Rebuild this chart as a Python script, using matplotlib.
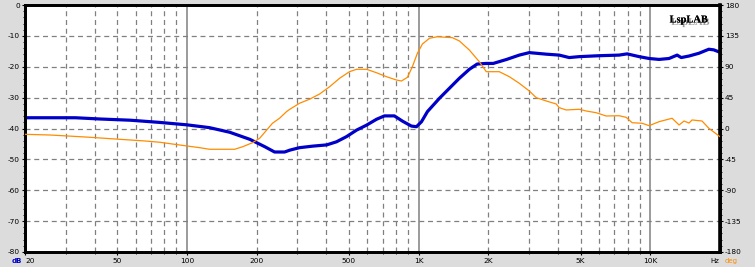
import matplotlib
matplotlib.use("Agg")
import matplotlib.pyplot as plt
from matplotlib.ticker import FixedLocator, NullFormatter
import matplotlib.patheffects as pe

# ---- data ----
mag_freq = [20, 33, 42, 57, 76, 100, 125, 153, 187, 217, 239, 264, 278, 306, 349, 401,
            442, 489, 540, 596, 658, 712, 786, 852, 931, 979, 1029, 1092, 1230, 1500,
            1656, 1790, 1960, 2100, 2400, 2720, 3004, 3221, 3556, 4046, 4467, 4932,
            6014, 7334, 7946, 8954, 9886, 10914, 12050, 13060, 13600, 14700, 16230,
            17900, 18800, 20000]
mag_db = [-36.5, -36.5, -36.9, -37.3, -38.0, -38.8, -39.7, -41.2, -43.5, -45.9, -47.6,
          -47.6, -47.0, -46.2, -45.7, -45.3, -44.3, -42.6, -40.5, -38.9, -37.0, -35.9,
          -35.9, -37.6, -39.2, -39.4, -37.8, -34.5, -30.2, -23.7, -20.8, -19.1, -18.9,
          -18.9, -17.6, -16.2, -15.4, -15.6, -15.9, -16.2, -17.0, -16.7, -16.4, -16.2,
          -15.8, -16.7, -17.3, -17.6, -17.3, -16.2, -17.0, -16.5, -15.6, -14.3, -14.5,
          -15.3]

ph_freq = [20, 25.6, 32.3, 38, 44.2, 51.4, 65.8, 76.4, 88.6, 100, 113.6, 125, 145.6,
           160.8, 174, 192, 206, 234, 251, 269, 278, 306, 338, 374, 413, 456, 503, 540,
           596, 658, 727, 802, 843, 895, 940, 988, 1039, 1114, 1206, 1399, 1500, 1656,
           1828, 1960, 2061, 2230, 2464, 2720, 3004, 3221, 3556, 3927, 4046, 4338, 4932,
           5290, 5842, 6452, 7334, 7868, 8352, 9222, 9886, 10914, 12420, 13320, 13990,
           14700, 15150, 16730, 17900, 20000]
ph_deg = [-8.4, -9.4, -11.3, -12.7, -14.2, -15.7, -18.1, -20.0, -23.0, -25.4, -27.9,
          -30.2, -30.2, -30.2, -26.5, -20.6, -14.2, 7.7, 15.0, 24.6, 28.1, 36.8, 42.7,
          50.4, 61.0, 73.3, 82.9, 86.4, 86.4, 81.4, 75.6, 70.8, 69.3, 74.7, 90.2, 109.7,
          123.3, 131.6, 133.9, 132.5, 127.7, 114.5, 97.5, 82.9, 82.9, 82.9, 75.6, 66.0,
          54.8, 45.0, 40.2, 35.8, 30.4, 27.1, 28.1, 25.6, 23.1, 18.3, 18.7, 16.4, 8.5,
          7.7, 4.2, 10.0, 15.0, 5.2, 11.0, 8.0, 12.5, 11.0, 0.4, -11.9]

db_ticks = [0, -10, -20, -30, -40, -50, -60, -70, -80]
deg_ticks = [180, 135, 90, 45, 0, -45, -90, -135, -180]
freq_ticks = [20, 50, 100, 200, 500, 1000, 2000, 5000, 10000]
freq_labels = ["20", "50", "100", "200", "500", "1K", "2K", "5K", "10K"]

BG = "#dcdcdc"
BLUE = "#0000c8"
ORANGE = "#ff8c00"

fig = plt.figure(figsize=(7.55, 2.67), dpi=100, facecolor=BG)
L, R = 25 / 755, 720 / 755
B, T = 1 - 252 / 267, 1 - 5.1 / 267
ax = fig.add_axes([L, B, R - L, T - B])
ax.set_facecolor("white")
ax.set_xscale("log")
ax.set_xlim(20, 20000)
ax.set_ylim(-80, 0)

# grid
minor_f = []
for dec in [10, 100, 1000, 10000]:
    for m in range(2, 10):
        f = m * dec
        if 20 < f < 20000:
            minor_f.append(f)
for f in minor_f:
    ax.axvline(f, color="#808080", lw=0.9, ls=(0, (4, 3)), zorder=1)
for f in [100, 1000, 10000]:
    ax.axvline(f, color="#808080", lw=1.1, zorder=1)
for d in db_ticks[1:-1]:
    ax.axhline(d, color="#808080", lw=0.9, ls=(0, (4, 3)), zorder=1)

ax2 = ax.twinx()
ax2.set_ylim(-180, 180)
ax2.set_xscale("log")
ax2.set_xlim(20, 20000)

ax2.plot(ph_freq, ph_deg, color=ORANGE, lw=0.9, zorder=3)
ax.plot(mag_freq, mag_db, color=BLUE, lw=2.3, zorder=4)
ax.set_zorder(2)
ax.patch.set_visible(True)
ax2.set_zorder(3)
ax2.patch.set_visible(False)

# ticks
ax.xaxis.set_major_locator(FixedLocator(freq_ticks))
ax.set_xticklabels(freq_labels)
ax.get_xticklabels()[0].set_horizontalalignment("left")
ax.xaxis.set_minor_locator(FixedLocator([f for f in minor_f if f not in freq_ticks]))
ax.xaxis.set_minor_formatter(NullFormatter())
ax.set_yticks(db_ticks)
ax.set_yticklabels([str(v) for v in db_ticks])
ax.yaxis.set_minor_locator(FixedLocator(range(-80, 1, 2)))
ax.tick_params(axis="both", which="major", labelsize=5.3, length=2.5, width=0.8,
               pad=1, direction="out", colors="black")
ax.tick_params(axis="both", which="minor", length=1.5, width=0.6, direction="out")
ax.tick_params(axis="x", which="major", pad=1.5)

ax2.set_yticks(deg_ticks)
ax2.set_yticklabels([str(v) for v in deg_ticks])
ax2.yaxis.set_minor_locator(FixedLocator(range(-180, 181, 9)))
ax2.tick_params(axis="y", which="major", labelsize=5.3, length=2.5, width=0.8, pad=1)
ax2.tick_params(axis="y", which="minor", length=1.5, width=0.6)
ax2.tick_params(axis="x", which="both", bottom=False, top=False, labelbottom=False)

for a in (ax, ax2):
    for s in a.spines.values():
        s.set_linewidth(2.0)
        s.set_color("black")
ax2.spines["right"].set_linewidth(2.6)

# labels
fig.text(16.5 / 755, 1 - 261 / 267, "dB", color=BLUE, fontsize=5.0, ha="center",
         va="center", fontweight="bold")
fig.text(715 / 755, 1 - 261 / 267, "Hz", color="black", fontsize=5.0, ha="center",
         va="center")
fig.text(731 / 755, 1 - 261 / 267, "deg", color=ORANGE, fontsize=5.0, ha="center",
         va="center")

ax.text(0.982, 0.94, "LspLAB", transform=ax.transAxes, ha="right", va="center",
        fontsize=7.5, fontweight="bold", family="Liberation Serif", color="black",
        path_effects=[pe.withSimplePatchShadow(offset=(1.2, -1.8), shadow_rgbFace="#909090",
                                               alpha=0.9), pe.Normal()], zorder=6)

fig.savefig("out.png", dpi=100, facecolor=BG)
